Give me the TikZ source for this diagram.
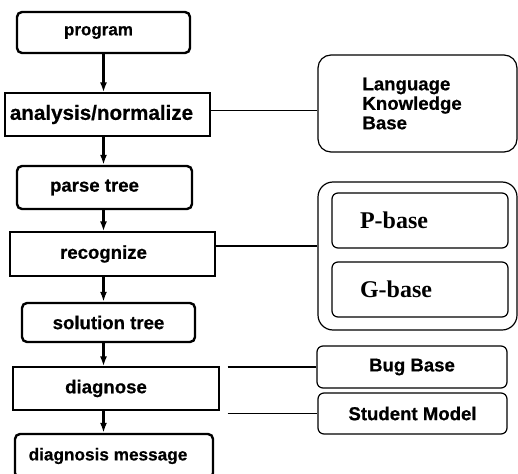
\documentclass[tikz,border=0pt]{standalone}
\usepackage{fontspec}
\setmainfont{Liberation Sans}[BoldFeatures={FakeBold=0.6}]
\newfontfamily\timesfont{Liberation Serif}
\usetikzlibrary{arrows.meta}
\tikzset{
    datanode/.style={draw, line width=2.4pt, rounded corners=5pt, inner sep=0pt, font=\fontsize{18.6}{20}\selectfont\bfseries},
    procnode/.style={draw, line width=1.2pt, inner sep=0pt, font=\fontsize{18.6}{20}\selectfont\bfseries},
    basenode/.style={draw, line width=1.2pt, rounded corners=6pt, inner sep=0pt, font=\fontsize{18.6}{20}\selectfont\bfseries},
    kbnode/.style={draw, line width=1.2pt, rounded corners=13pt, inner sep=0pt},
    subbase/.style={draw, line width=1.2pt, rounded corners=6pt, inner sep=0pt, align=left, text width=120pt, font=\timesfont\fontsize{24}{26}\selectfont\bfseries},
    flowarrow/.style={-{Latex[length=10pt,width=7pt]}, line width=2.6pt},
    linkline/.style={line width=1.4pt}
}
\begin{document}
\begin{tikzpicture}[x=1pt, y=-1pt]
    \useasboundingbox (0,0) rectangle (518,473);

    % Processing chain
    \node[datanode, minimum width=173pt, minimum height=41pt, font=\fontsize{17}{20}\selectfont\bfseries] (prog) at (103.5,32.5) {\hspace*{-10pt}program};
    \node[procnode, minimum width=205pt, minimum height=43pt, font=\fontsize{20.6}{22}\selectfont\bfseries] (ana) at (107.5,114.5) {\hspace*{-12pt}analysis/normalize};
    \node[datanode, minimum width=175pt, minimum height=43pt] (parse) at (104.5,187.5) {\hspace*{-20pt}parse tree};
    \node[procnode, minimum width=205pt, minimum height=44pt] (rec) at (112.5,254) {\hspace*{-18pt}recognize};
    \node[datanode, minimum width=173pt, minimum height=39pt] (sol) at (108.5,322.5) {solution tree};
    \node[procnode, minimum width=206pt, minimum height=43pt] (diag) at (116,388.5) {\hspace*{-20pt}diagnose};
    \node[datanode, minimum width=198pt, minimum height=44pt, font=\fontsize{17.2}{20}\selectfont\bfseries] (msg) at (114,456) {\hspace*{-12pt}diagnosis message};

    % Knowledge sources
    \node[kbnode, minimum width=199pt, minimum height=97pt, align=left, text width=110pt, font=\fontsize{18.6}{19.5}\selectfont\bfseries] (lkb) at (417.5,103.5) {Language\\Knowledge\\Base};
    \node[kbnode, rounded corners=15pt, minimum width=199pt, minimum height=148pt] (cont) at (417.5,256) {};
    \node[subbase, minimum width=176pt, minimum height=55pt] (pb) at (420,220.5) {P-base};
    \node[subbase, minimum width=176pt, minimum height=55pt] (gb) at (420,289.5) {G-base};
    \node[basenode, minimum width=190pt, minimum height=42pt] (bug) at (412,367) {Bug Base};
    \node[basenode, minimum width=189pt, minimum height=41pt] (stu) at (412.5,413.5) {Student Model};

    % Flow
    \draw[flowarrow] (prog.south) -- (prog.south |- ana.north);
    \draw[flowarrow] (prog.south |- ana.south) -- (prog.south |- parse.north);
    \draw[flowarrow] (prog.south |- parse.south) -- (prog.south |- rec.north);
    \draw[flowarrow] (prog.south |- rec.south) -- (prog.south |- sol.north);
    \draw[flowarrow] (prog.south |- sol.south) -- (prog.south |- diag.north);
    \draw[flowarrow] (prog.south |- diag.south) -- (prog.south |- msg.north);

    % Links to the knowledge sources
    \draw[linkline] ([yshift=4pt]ana.east) -- ([yshift=4pt]ana.east -| lkb.west);
    \draw[linkline] ([yshift=8pt]rec.east) -- ([yshift=8pt]rec.east -| cont.west);
    \draw[linkline] ([xshift=8pt]diag.east |- bug.west) -- (bug.west);
    \draw[linkline] ([xshift=8pt]diag.east |- stu.west) -- (stu.west);
\end{tikzpicture}
\end{document}
